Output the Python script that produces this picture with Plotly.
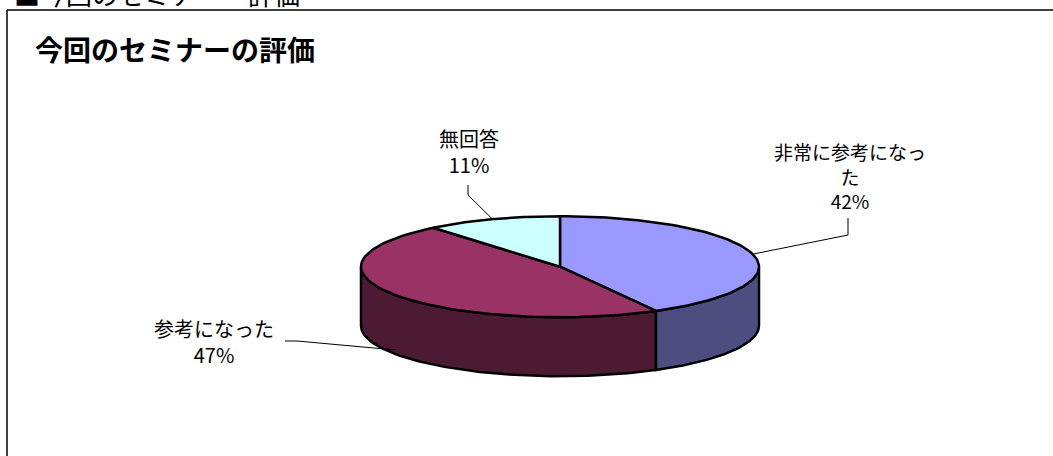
import numpy as np
import plotly.graph_objects as go

# ---- data ----
categories = ["非常に参考になった", "参考になった", "無回答"]
values = [42, 47, 11]
title_text = "今回のセミナーの評価"
heading_text = "■今回のセミナー　評価"

top_colors = ["#9999FF", "#993366", "#CCFFFF"]
side_colors = ["#4D4D80", "#4D1A33", "#668080"]

# ---- geometry (pixel space) ----
W, H = 1053, 456
CX, CY, RA, RB, DEPTH = 560, 266.7, 199, 50.5, 59
FONT = "Noto Sans CJK JP"

total = float(sum(values))
fracs = [v / total for v in values]
starts = np.concatenate([[0], np.cumsum(fracs)[:-1]]) * 360
ends = np.cumsum(fracs) * 360


def pt(theta_deg, dz=0.0):
    t = np.radians(theta_deg)
    return CX + RA * np.sin(t), CY - RB * np.cos(t) + dz


def arc(a0, a1, dz=0.0, n=80):
    th = np.linspace(a0, a1, n)
    xs, ys = pt(th, dz)
    return list(xs), list(ys)


fig = go.Figure()

# side walls (visible front half: 90..270 deg clockwise from top)
for i in range(len(values)):
    s, e = max(starts[i], 90), min(ends[i], 270)
    if e <= s:
        continue
    tx, ty = arc(s, e)
    bx, by = arc(e, s, DEPTH)
    fig.add_trace(go.Scatter(
        x=tx + bx + [tx[0]], y=ty + by + [ty[0]],
        mode="lines", fill="toself", fillcolor=side_colors[i],
        line=dict(color="black", width=2.5), hoverinfo="skip", showlegend=False))

# top faces
for i in range(len(values)):
    ax_, ay_ = arc(starts[i], ends[i])
    fig.add_trace(go.Scatter(
        x=[CX] + ax_ + [CX], y=[CY] + ay_ + [CY],
        mode="lines", fill="toself", fillcolor=top_colors[i],
        line=dict(color="black", width=2.5), hoverinfo="skip", showlegend=False))

# labels and leader lines
label_lines = [
    [categories[0][:8], categories[0][8:]],
    [categories[1]],
    [categories[2]],
]
label_pos = [  # (x center, y center, font size, elbow points)
    (850, 176, 19, [(848, 218), (848, 235)]),
    (214, 341, 20, [(285, 341), (297, 341)]),
    (469, 151, 20, [(468, 185), (468, 195)]),
]
for i in range(len(values)):
    pct = f"{round(values[i] / total * 100)}%"
    lines = label_lines[i] + [pct]
    xc, yc, fs, elbow = label_pos[i]
    fig.add_annotation(x=xc, y=yc, xref="x", yref="y", text="<br>".join(lines),
                       showarrow=False, xanchor="center", yanchor="middle",
                       align="center",
                       font=dict(family=FONT, size=fs, color="black"))
    mid = (starts[i] + ends[i]) / 2
    front = np.cos(np.radians(mid)) < 0
    mx, my = pt(mid, DEPTH * 0.93 if front else 0)
    px = [p[0] for p in elbow] + [mx]
    py = [p[1] for p in elbow] + [my]
    fig.add_trace(go.Scatter(x=px, y=py, mode="lines",
                             line=dict(color="black", width=1),
                             hoverinfo="skip", showlegend=False))

# title inside the frame
fig.add_annotation(x=33, y=49, xref="x", yref="y", text=f"<b>{title_text}</b>",
                   showarrow=False, xanchor="left", yanchor="middle",
                   font=dict(family=FONT, size=28, color="black"))
# heading cut off at the top of the picture
fig.add_annotation(x=12 / W, y=1 + 7 / H, xref="paper", yref="paper", text=heading_text,
                   showarrow=False, xanchor="left", yanchor="middle",
                   font=dict(family=FONT, size=26, color="black"))

# frame (left and top edges)
fig.add_shape(type="line", x0=7, x1=7, y0=10, y1=H + 5, xref="x", yref="y",
              line=dict(color="black", width=1.5))
fig.add_shape(type="line", x0=7, x1=W + 5, y0=10, y1=10, xref="x", yref="y",
              line=dict(color="black", width=1.5))

fig.update_layout(
    width=W, height=H, autosize=False,
    margin=dict(l=0, r=0, t=0, b=0),
    paper_bgcolor="white", plot_bgcolor="white",
    xaxis=dict(range=[0, W], visible=False, fixedrange=True),
    yaxis=dict(range=[H, 0], visible=False, fixedrange=True),
    showlegend=False,
)

fig.write_html("out.html", config={"displayModeBar": False})
